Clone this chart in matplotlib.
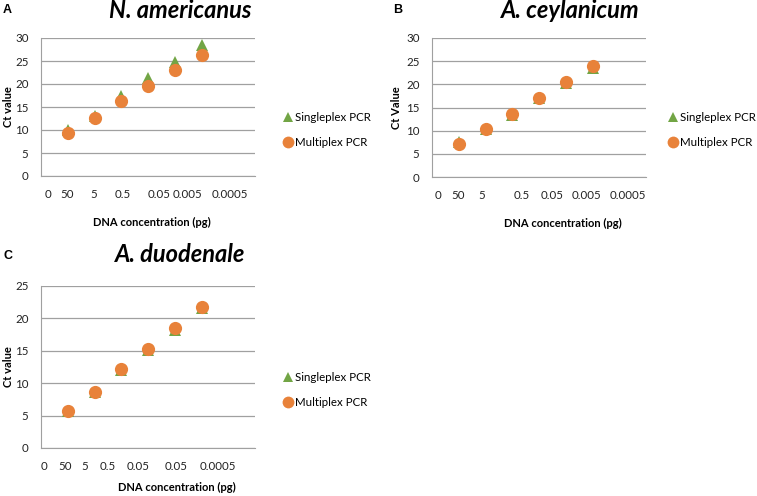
import matplotlib

matplotlib.use("Agg")
import matplotlib.pyplot as plt  # noqa: E402

plt.rcParams["font.family"] = ["Lato", "DejaVu Sans"]

# x positions are the dilution steps (1 = 50 pg ... 6 = 0.0005 pg)
steps = [1, 2, 3, 4, 5, 6]

single_a = [10.0, 13.1, 17.4, 21.3, 24.7, 28.4]
multi_a = [9.4, 12.7, 16.2, 19.6, 23.1, 26.4]
single_b = [7.5, 10.4, 13.4, 17.0, 20.3, 23.6]
multi_b = [7.1, 10.3, 13.6, 17.1, 20.6, 24.0]
single_c = [5.7, 8.6, 12.0, 15.1, 18.2, 21.6]
multi_c = [5.75, 8.65, 12.2, 15.3, 18.5, 21.7]

# tick labels as they appear (placed by hand in the original)
xlab_a = ["0", "50", "5", "0.5", "0.05", "0.005", "0.0005"]
xlab_b = ["0", "50", "5", "0.5", "0.05", "0.005", "0.0005"]
xlab_c = ["0", "50", "5", "0.5", "0.05", "0.05", "0.0005"]
xpos_a = [0.26, 0.97, 1.98, 3.07, 4.41, 5.46, 7.07]
xpos_b = [0.22, 0.97, 1.84, 3.34, 4.49, 5.79, 7.31]
xpos_c = [0.11, 0.89, 1.63, 2.50, 3.63, 5.06, 6.62]

GREEN = "#72A545"
ORANGE = "#E8823A"
GRID = "#A0A0A0"
W, H = 757, 496


def panel(fig, box, single, multi, xpos, xlab, ymax, ylabel, title, letter,
          title_xy, letter_xy, xlabel_xy, ylabel_x, legend_xy):
    l, t, r, b = box
    ax = fig.add_axes([l / W, 1 - b / H, (r - l) / W, (b - t) / H])
    ax.plot(steps, single, "^", color=GREEN, ms=8.5, mew=0, zorder=3)
    ax.plot(steps, multi, "o", color=ORANGE, ms=9.5, mew=0, zorder=4)
    ax.set_xlim(0, 8)
    ax.set_ylim(0, ymax)
    ax.set_yticks(range(0, ymax + 1, 5))
    ax.set_xticks(xpos, xlab)
    ax.tick_params(length=0, labelsize=8.3, colors="#222222")
    ax.tick_params(axis="y", pad=9)
    ax.tick_params(axis="x", pad=9)
    ax.grid(axis="y", color=GRID, lw=0.9)
    ax.set_axisbelow(True)
    for s in ("top", "right"):
        ax.spines[s].set_visible(False)
    ax.spines["left"].set_color(GRID)
    ax.spines["bottom"].set_color(GRID)
    fig.text(title_xy[0] / W, 1 - title_xy[1] / H, title, ha="center", va="center",
             fontsize=17, fontweight="bold", fontstyle="italic")
    fig.text(letter_xy[0] / W, 1 - letter_xy[1] / H, letter, ha="left", va="center",
             fontsize=9, fontweight="bold", family=["Liberation Sans"])
    fig.text(xlabel_xy[0] / W, 1 - xlabel_xy[1] / H, "DNA concentration (pg)",
             ha="center", va="center", fontsize=8, fontweight="bold")
    fig.text(ylabel_x / W, 1 - (t + b) / 2 / H, ylabel, ha="center", va="center",
             rotation=90, fontsize=8, fontweight="bold")
    h1, = ax.plot([], [], "^", color=GREEN, ms=7.5, mew=0)
    h2, = ax.plot([], [], "o", color=ORANGE, ms=8.5, mew=0)
    ax.legend([h1, h2], ["Singleplex PCR", "Multiplex PCR"], loc="center left",
              bbox_to_anchor=(legend_xy[0] / W, 1 - legend_xy[1] / H),
              bbox_transform=fig.transFigure, frameon=False, fontsize=8.3,
              handlelength=0.7, handletextpad=0.25, labelspacing=1.15, borderpad=0)
    return ax


fig = plt.figure(figsize=(W / 100, H / 100), dpi=100)
panel(fig, (41, 38, 255, 176), single_a, multi_a, xpos_a, xlab_a, 30, "Ct value",
      "N. americanus", "A", (180, 11), (3, 10), (152, 222), 8, (278, 130))
panel(fig, (432, 38, 646, 177), single_b, multi_b, xpos_b, xlab_b, 30, "Ct Value",
      "A. ceylanicum", "B", (570, 11), (393, 10), (563, 223), 396, (663, 130))
panel(fig, (41, 286, 255, 448), single_c, multi_c, xpos_c, xlab_c, 25, "Ct value",
      "A. duodenale", "C", (180, 255), (3, 256), (177, 487), 8, (278, 390))
fig.savefig("out.png", dpi=100)
